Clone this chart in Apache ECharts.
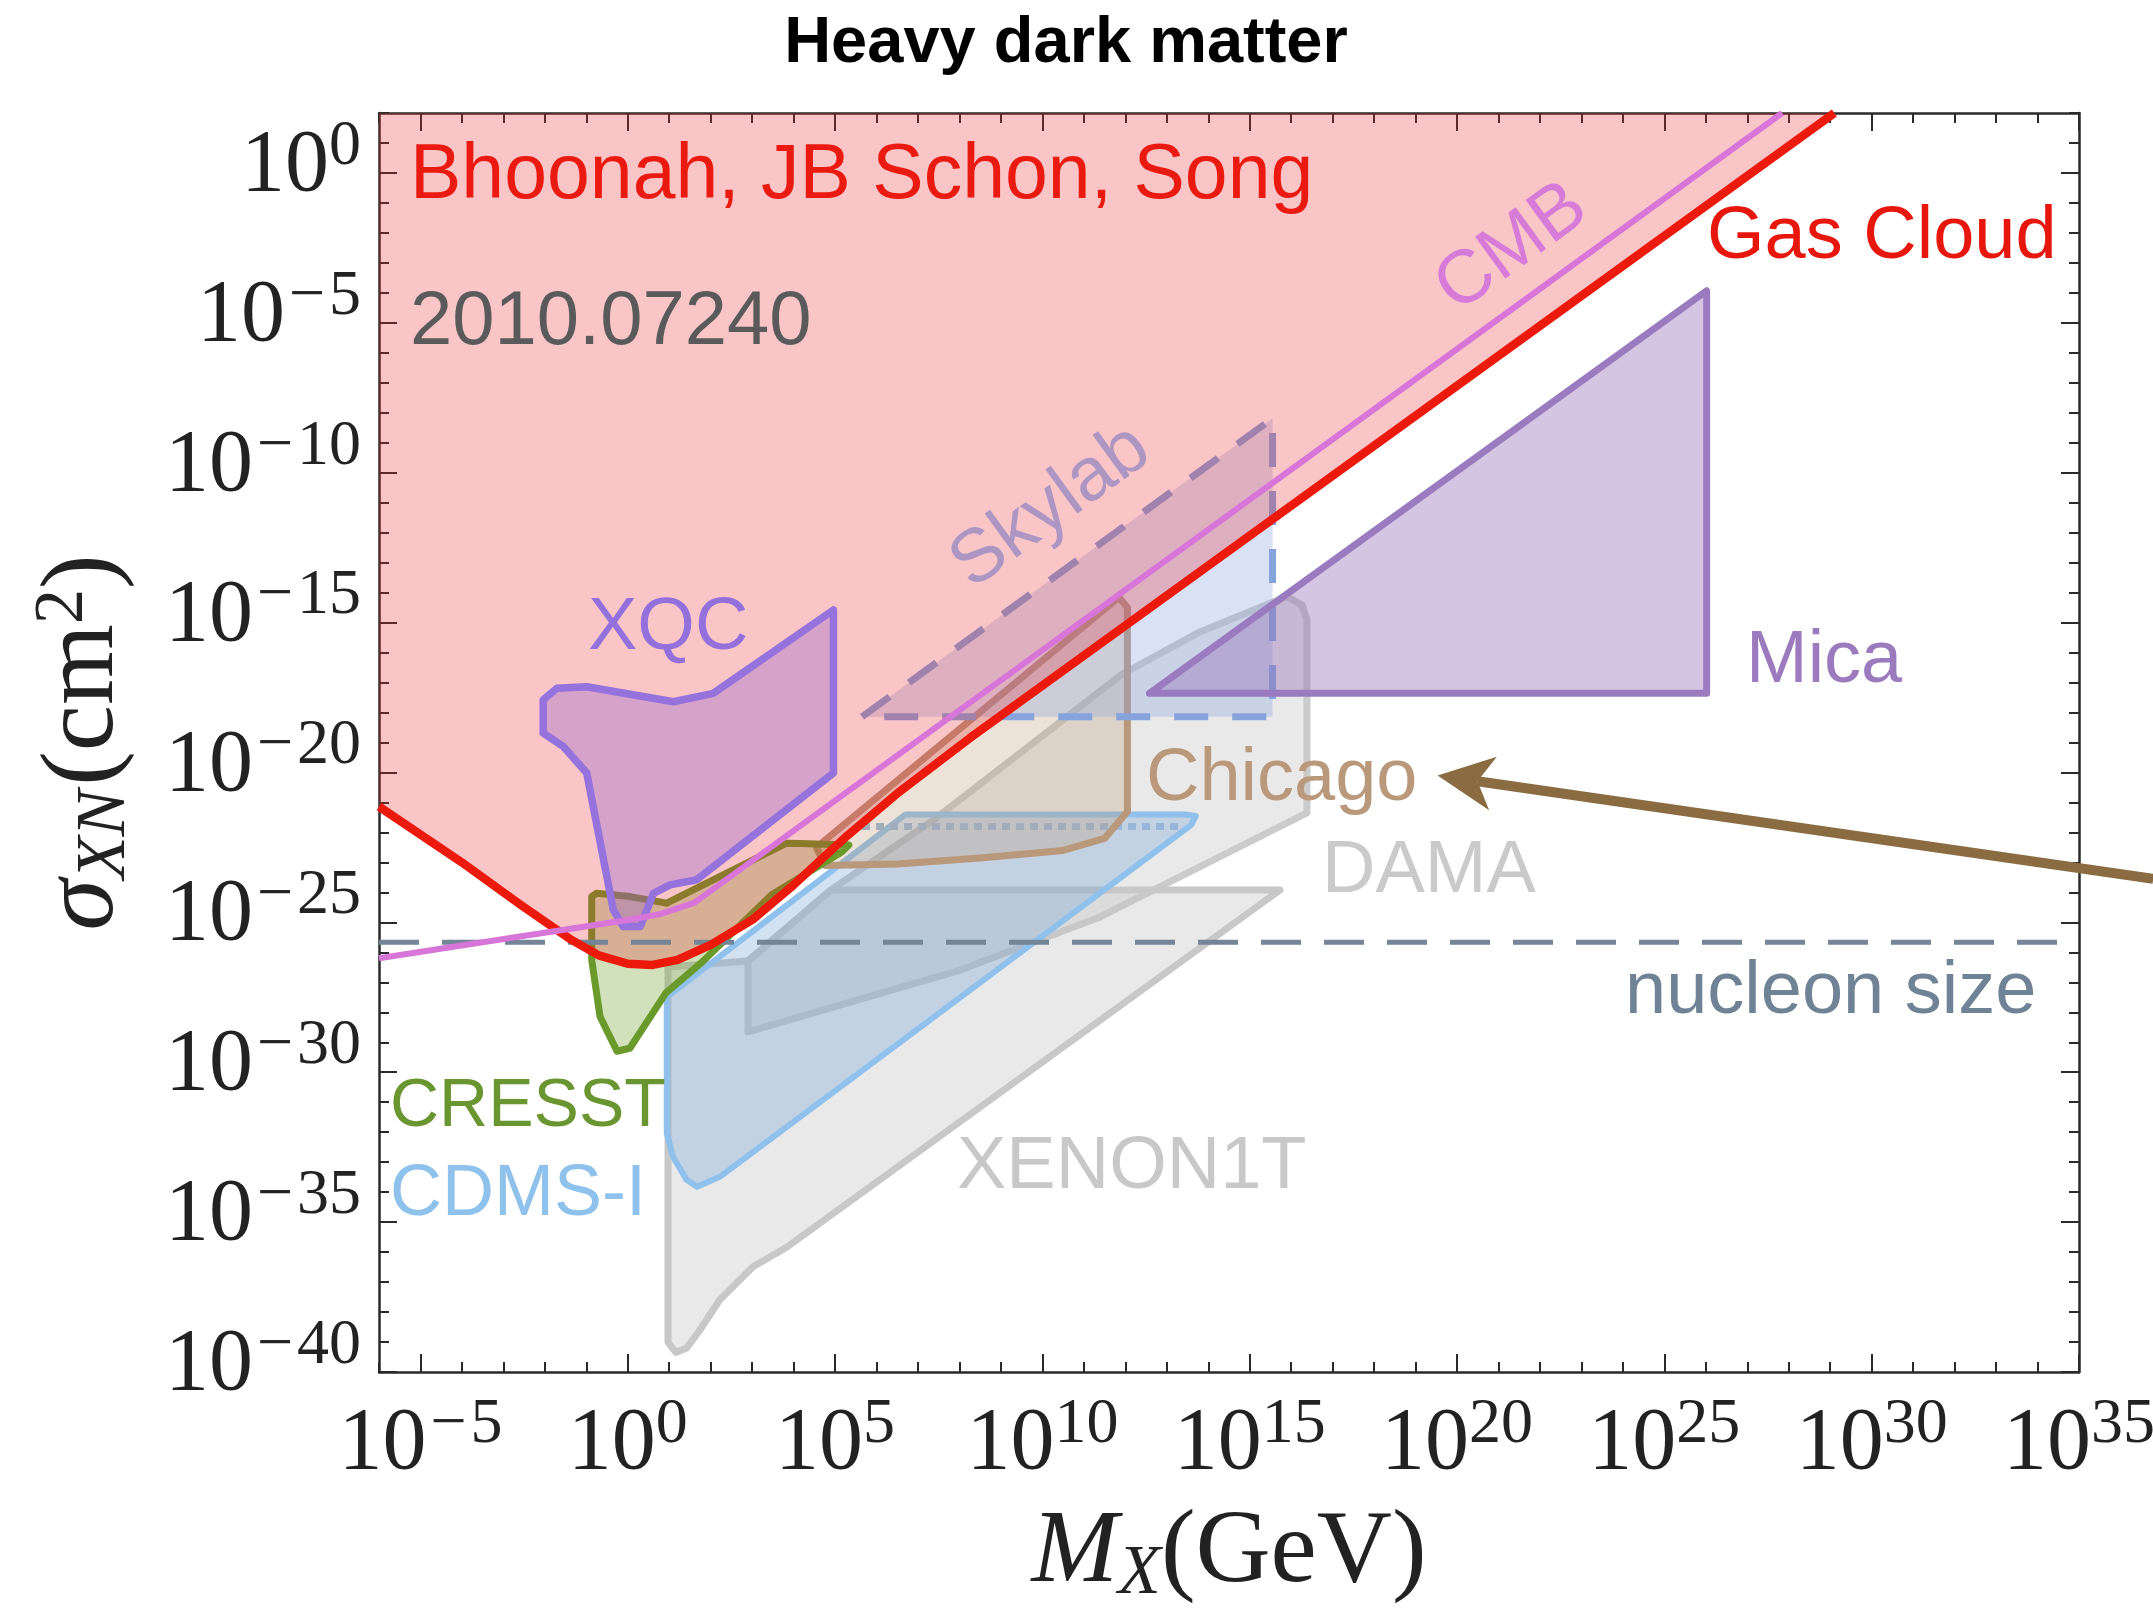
<!DOCTYPE html>
<html>
<head>
<meta charset="utf-8">
<title>Heavy dark matter</title>
<script src="https://cdn.jsdelivr.net/npm/echarts@6/dist/echarts.min.js"></script>
<style>
  html, body { margin: 0; padding: 0; background: #ffffff; }
  #chart { width: 2153px; height: 1611px; }
</style>
</head>
<body>
<div id="chart"></div>
<script>
// ---- Axis ranges and tick exponents (log10 units) ----
const logMassRange = [-6, 35];
const logSigmaRange = [-40, 2];
const massTickExponents = [-5, 0, 5, 10, 15, 20, 25, 30, 35];
const sigmaTickExponents = [-40, -35, -30, -25, -20, -15, -10, -5, 0];

// ---- Gas cloud bound (log10 M / GeV, log10 sigma / cm^2) ----
const gasCloudLogM     = [-6, -4, -2.6, -1.4, -0.7, 0, 0.6, 1.2, 2.0, 3.0, 4.0, 5.3, 6.5, 8.25, 29.1];
const gasCloudLogSigma = [-21.14, -23.0, -24.4, -25.55, -26.1, -26.38, -26.42, -26.25, -25.75, -24.92, -23.75, -22.1, -20.7, -18.85, 2.0];

// ---- CMB bound ----
const cmbLogM     = [-6, -2.6, 0, 0.8, 1.6, 2.5, 27.84];
const cmbLogSigma = [-26.2, -25.47, -24.92, -24.72, -24.35, -23.45, 2.0];

// ---- Nucleon geometric size ----
const nucleonLogSigma = -25.66;

// ---- XQC ----
const xqcLogM     = [4.96, 4.96, 1.66, 1.02, 0.62, 0.30, -0.11, -0.35, -0.99, -1.55, -2.04, -2.04, -1.71, -0.99, 1.10, 2.06];
const xqcLogSigma = [-14.58, -20.02, -23.58, -23.75, -24.03, -25.14, -25.14, -24.58, -20.02, -19.14, -18.69, -17.58, -17.19, -17.14, -17.64, -17.36];

// ---- CRESST surface run ----
const cresstLogM     = [-0.87, -0.87, -0.67, -0.26, 0.05, 0.92, 1.78, 3.47, 5.16, 5.33, 4.15, 3.83, 0.94, 0.05, -0.75];
const cresstLogSigma = [-24.14, -26.25, -28.14, -29.3, -29.2, -27.35, -26.34, -24.08, -22.65, -22.42, -22.37, -22.36, -24.36, -24.14, -24.03];

// ---- CDMS-I ----
const cdmsLogM     = [0.94, 0.94, 1.09, 1.42, 1.67, 2.22, 13.59, 13.7, 13.44, 6.7];
const cdmsLogSigma = [-27.49, -32.02, -32.82, -33.59, -33.82, -33.49, -21.75, -21.45, -21.4, -21.4];
const cdmsEdgeLogM     = [5.65, 13.34];
const cdmsEdgeLogSigma = [-21.8, -21.8];

// ---- Chicago ----
const chicagoLogM     = [4.55, 4.75, 6.5, 8.5, 10.5, 11.5, 12.05, 12.05, 11.85];
const chicagoLogSigma = [-22.5, -23.1, -23.05, -22.85, -22.6, -22.2, -21.3, -14.5, -14.15];

// ---- Skylab ----
const skylabLogM     = [5.65, 15.55, 15.55];
const skylabLogSigma = [-18.14, -8.19, -18.14];

// ---- Mica ----
const micaLogM     = [12.58, 26.02, 26.02];
const micaLogSigma = [-17.36, -3.93, -17.36];

// ---- XENON1T ----
const xenonLogM     = [0.97, 0.97, 1.16, 1.42, 1.74, 2.22, 3.02, 3.84, 15.73, 4.9, 2.9];
const xenonLogSigma = [-26.49, -39.0, -39.35, -39.2, -38.6, -37.59, -36.49, -35.83, -23.92, -23.92, -26.29];

// ---- DAMA ----
const damaLogM     = [2.9, 2.9, 8.0, 11.39, 16.38, 16.38, 16.26, 15.89, 13.8, 11.91, 7.43, 4.9];
const damaLogSigma = [-26.29, -28.65, -26.6, -24.82, -21.35, -14.91, -14.41, -14.13, -15.31, -16.73, -21.53, -23.92];

// ---- Pointer towards the Chicago label ----
const arrowLogM     = [36.79, 19.53];
const arrowLogSigma = [-23.55, -20.1];

// ---------------------------------------------------------------
const FRAME = '#2a2a2a';
const INK = '#222222';
const SERIF = '"Liberation Serif", "Times New Roman", serif';
const SANS = '"Liberation Sans", Arial, Helvetica, sans-serif';

function powerLabel(v) {
  if (v < 0) return '{b|10}{m|\u2212}{s|' + Math.abs(v) + '}';
  return '{b|10}{s|' + v + '}';
}
const tickRich = {
  b: { fontFamily: SERIF, fontSize: 88, lineHeight: 104, color: INK },
  m: { fontFamily: SERIF, fontSize: 64, lineHeight: 60, verticalAlign: 'top', color: INK, padding: [0, 4, 0, 4] },
  s: { fontFamily: SERIF, fontSize: 64, lineHeight: 60, verticalAlign: 'top', color: INK }
};
const tickLine = { color: FRAME, width: 2 };

function pairs(xs, ys) { return xs.map((x, i) => [x, ys[i]]); }

// one filled/outlined region drawn through the cartesian scales
function region(name, xs, ys, opt) {
  return {
    type: 'custom',
    name: name,
    z: opt.z,
    clip: true,
    silent: true,
    data: pairs(xs, ys),
    renderItem: function (params, api) {
      if (params.dataIndex !== 0) return null;
      const pts = xs.map((x, i) => api.coord([x, ys[i]]));
      return {
        type: opt.open ? 'polyline' : 'polygon',
        shape: { points: pts },
        style: {
          fill: opt.open ? null : (opt.fill || null),
          stroke: opt.stroke || null,
          lineWidth: opt.width || 0,
          lineDash: opt.dash || null,
          lineJoin: 'round',
          lineCap: opt.cap || 'round'
        }
      };
    }
  };
}

function minorAxisX(pos, withName) {
  const a = {
    type: 'value', position: pos, min: logMassRange[0], max: logMassRange[1], interval: 1,
    axisLine: { show: true, onZero: false, lineStyle: { color: FRAME, width: 2.5 } },
    axisTick: { show: true, inside: true, length: 10, lineStyle: tickLine },
    axisLabel: { show: false }, splitLine: { show: false }
  };
  if (withName) {
    a.name = '{i|M}{sub|X}{n|(GeV)}';
    a.nameLocation = 'middle';
    a.nameGap = 126;
    a.nameMoveOverlap = false;
    a.nameTextStyle = {
      rich: {
        i: { fontFamily: SERIF, fontStyle: 'italic', fontSize: 104, lineHeight: 112, color: INK },
        sub: { fontFamily: SERIF, fontStyle: 'italic', fontSize: 70, lineHeight: 62, verticalAlign: 'bottom', color: INK },
        n: { fontFamily: SERIF, fontSize: 104, lineHeight: 112, color: INK }
      }
    };
  }
  return a;
}
function majorAxisX(pos, labels) {
  return {
    type: 'value', position: pos, min: logMassRange[0], max: logMassRange[1],
    axisLine: { show: false, onZero: false },
    axisTick: { show: true, inside: true, length: 18, customValues: massTickExponents, lineStyle: tickLine },
    axisLabel: labels ? { show: true, customValues: massTickExponents, formatter: powerLabel, rich: tickRich, margin: 21 } : { show: false },
    splitLine: { show: false }
  };
}
function minorAxisY(pos, withName) {
  const a = {
    type: 'value', position: pos, min: logSigmaRange[0], max: logSigmaRange[1], interval: 1,
    axisLine: { show: true, onZero: false, lineStyle: { color: FRAME, width: 2.5 } },
    axisTick: { show: true, inside: true, length: 10, lineStyle: tickLine },
    axisLabel: { show: false }, splitLine: { show: false }
  };
  if (withName) {
    a.name = '{i|\u03c3}{sub|XN}{n|(cm}{sup|2}{n|)}';
    a.nameLocation = 'middle';
    a.nameRotate = 90;
    a.nameGap = 238;
    a.nameMoveOverlap = false;
    a.nameTextStyle = {
      rich: {
        i: { fontFamily: SERIF, fontStyle: 'italic', fontSize: 104, lineHeight: 112, color: INK },
        sub: { fontFamily: SERIF, fontStyle: 'italic', fontSize: 70, lineHeight: 60, verticalAlign: 'bottom', color: INK, padding: [0, 4, 0, 0] },
        sup: { fontFamily: SERIF, fontSize: 70, lineHeight: 60, verticalAlign: 'top', color: INK },
        n: { fontFamily: SERIF, fontSize: 104, lineHeight: 112, color: INK }
      }
    };
  }
  return a;
}
function majorAxisY(pos, labels) {
  return {
    type: 'value', position: pos, min: logSigmaRange[0], max: logSigmaRange[1],
    axisLine: { show: false, onZero: false },
    axisTick: { show: true, inside: true, length: 18, customValues: sigmaTickExponents, lineStyle: tickLine },
    axisLabel: labels ? { show: true, customValues: sigmaTickExponents, formatter: powerLabel, rich: tickRich, margin: 18, padding: [0, 0, 12, 0] } : { show: false },
    splitLine: { show: false }
  };
}

// text placed on the plot
function note(text, x, y, color, size, opts) {
  opts = opts || {};
  return {
    type: 'text', x: x, y: y, z: 100, rotation: opts.rot || 0, silent: true,
    style: {
      text: text, fill: color, fontFamily: SANS, fontSize: size,
      fontWeight: opts.bold ? 'bold' : 'normal',
      align: opts.align || 'left', verticalAlign: 'middle'
    }
  };
}
const tilt = 36 * Math.PI / 180;

const pinkLogM = gasCloudLogM.concat([logMassRange[0]]);
const pinkLogSigma = gasCloudLogSigma.concat([logSigmaRange[1]]);

const option = {
  backgroundColor: '#ffffff',
  animation: false,
  grid: { left: 379, top: 113, width: 1700, height: 1259, containLabel: false, outerBoundsMode: 'none' },
  xAxis: [minorAxisX('bottom', true), majorAxisX('bottom', true), minorAxisX('top', false), majorAxisX('top', false)],
  yAxis: [minorAxisY('left', true), majorAxisY('left', true), minorAxisY('right', false), majorAxisY('right', false)],
  series: [
    // grey direct-detection regions
    region('DAMA', damaLogM, damaLogSigma, { z: 1, fill: 'rgba(195,195,195,0.36)', stroke: '#cbcbcb', width: 7 }),
    region('XENON1T', xenonLogM, xenonLogSigma, { z: 1, fill: 'rgba(195,195,195,0.36)', stroke: '#c8c8c8', width: 7 }),
    // CDMS-I
    region('CDMS-I', cdmsLogM, cdmsLogSigma, { z: 2, fill: 'rgba(110,160,215,0.30)', stroke: '#8fc1ec', width: 6 }),
    region('CDMS-I edge', cdmsEdgeLogM, cdmsEdgeLogSigma, { z: 2, open: true, stroke: '#98b6d8', width: 7, dash: [8, 6], cap: 'butt' }),
    // Chicago
    region('Chicago', chicagoLogM, chicagoLogSigma, { z: 2, fill: 'rgba(190,150,110,0.28)', stroke: '#b9987c', width: 7 }),
    // CRESST
    region('CRESST', cresstLogM, cresstLogSigma, { z: 2, fill: 'rgba(120,170,60,0.35)', stroke: '#6a9a2c', width: 7 }),
    // Skylab
    region('Skylab', skylabLogM, skylabLogSigma, { z: 2, fill: 'rgba(140,165,225,0.33)', stroke: '#86a3dc', width: 7, dash: [34, 24], cap: 'butt' }),
    // Mica
    region('Mica', micaLogM, micaLogSigma, { z: 2, fill: 'rgba(150,110,185,0.40)', stroke: '#9b7bbf', width: 7 }),
    // excluded region above the gas cloud bound
    region('Gas Cloud region', pinkLogM, pinkLogSigma, { z: 3, fill: 'rgba(232,40,48,0.27)' }),
    // XQC
    region('XQC', xqcLogM, xqcLogSigma, { z: 4, fill: 'rgba(150,100,205,0.36)', stroke: '#9672dc', width: 7.5 }),
    // nucleon size
    {
      type: 'line', name: 'nucleon size', z: 4, symbol: 'none', silent: true,
      data: [[logMassRange[0], nucleonLogSigma], [logMassRange[1], nucleonLogSigma]],
      lineStyle: { color: '#738597', width: 5, type: [40, 23] }
    },
    {
      type: 'line', name: 'Gas Cloud', z: 5, symbol: 'none', silent: true,
      data: pairs(gasCloudLogM, gasCloudLogSigma),
      lineStyle: { color: '#ec1a0d', width: 8.5, join: 'round' }
    },
    {
      type: 'line', name: 'CMB', z: 6, symbol: 'none', silent: true,
      data: pairs(cmbLogM, cmbLogSigma),
      lineStyle: { color: '#d775d8', width: 6, join: 'round' }
    },
    {
      type: 'custom', name: 'pointer', z: 20, clip: false, silent: true,
      data: pairs(arrowLogM, arrowLogSigma),
      renderItem: function (params, api) {
        if (params.dataIndex !== 0) return null;
        const tail = api.coord([arrowLogM[0], arrowLogSigma[0]]);
        const tip = api.coord([arrowLogM[1], arrowLogSigma[1]]);
        const dx = tip[0] - tail[0], dy = tip[1] - tail[1];
        const L = Math.hypot(dx, dy), ux = dx / L, uy = dy / L;
        const headLen = 56, headW = 27;
        const back = [tip[0] - ux * headLen, tip[1] - uy * headLen];
        const notch = [tip[0] - ux * headLen * 0.72, tip[1] - uy * headLen * 0.72];
        const left = [back[0] - uy * headW, back[1] + ux * headW];
        const right = [back[0] + uy * headW, back[1] - ux * headW];
        return {
          type: 'group',
          children: [
            { type: 'line', shape: { x1: tail[0], y1: tail[1], x2: notch[0], y2: notch[1] }, style: { stroke: '#8b6c42', lineWidth: 10 } },
            { type: 'polygon', shape: { points: [tip, left, notch, right] }, style: { fill: '#8b6c42' } }
          ]
        };
      }
    }
  ],
  graphic: [
    note('Heavy dark matter', 1066, 44, '#000000', 65, { bold: true, align: 'center' }),
    note('Bhoonah, JB Schon, Song', 410, 177, '#ea1a10', 77),
    note('2010.07240', 410, 323, '#5a5a5a', 76),
    note('XQC', 588, 629, '#9370db', 74),
    note('Skylab', 1051, 507, '#ae96c2', 75, { align: 'center', rot: tilt }),
    note('CMB', 1512, 248, '#d77bd8', 75, { align: 'center', rot: tilt }),
    note('Gas Cloud', 1707, 238, '#e8170e', 74),
    note('Mica', 1746, 662, '#9b7bbd', 74),
    note('Chicago', 1146, 780, '#b9987c', 74),
    note('DAMA', 1322, 872, '#cacaca', 74),
    note('nucleon size', 1625, 993, '#708396', 74),
    note('XENON1T', 957, 1168, '#c8c8c8', 74),
    note('CRESST', 390, 1107, '#6a9632', 68),
    note('CDMS-I', 390, 1195, '#8ec1ec', 72)
  ]
};

const chart = echarts.init(document.getElementById('chart'), null, { renderer: 'canvas' });
chart.setOption(option);
</script>
</body>
</html>
